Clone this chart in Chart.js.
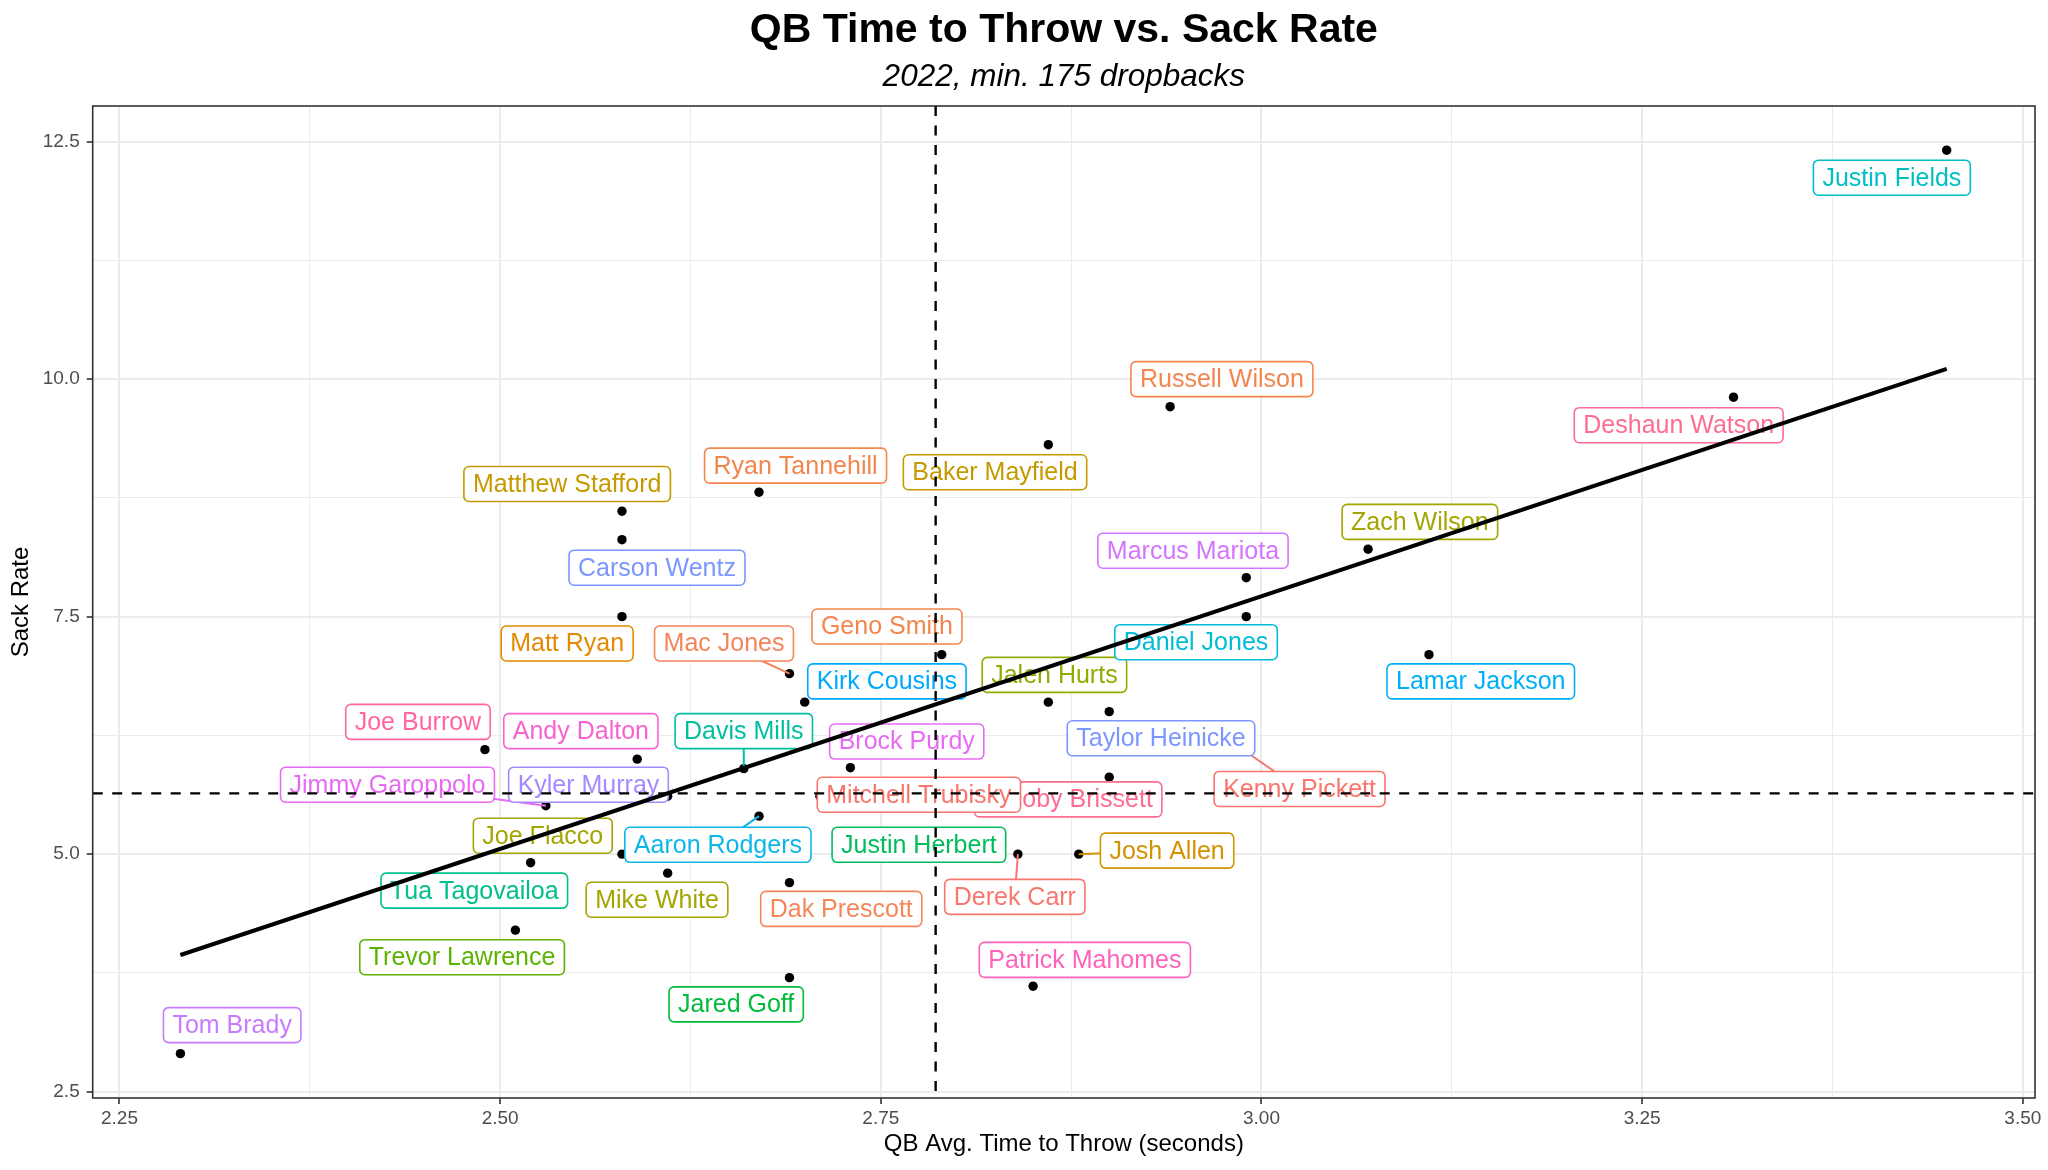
<!DOCTYPE html>
<html>
<head>
<meta charset="utf-8">
<script src="https://cdn.jsdelivr.net/npm/chart.js@4.4.1/dist/chart.umd.min.js"></script>
<style>
  html, body { margin: 0; padding: 0; background: #ffffff; }
  #wrap { width: 2048px; height: 1170px; }
</style>
</head>
<body>
<div id="wrap"><canvas id="qb"></canvas></div>
<script>
// DATA
const players = [
  "Tom Brady", "Trevor Lawrence", "Tua Tagovailoa", "Jimmy Garoppolo", "Joe Flacco",
  "Joe Burrow", "Andy Dalton", "Kyler Murray", "Mike White", "Davis Mills",
  "Aaron Rodgers", "Dak Prescott", "Jared Goff", "Mac Jones", "Kirk Cousins",
  "Matt Ryan", "Matthew Stafford", "Carson Wentz", "Ryan Tannehill", "Geno Smith",
  "Brock Purdy", "Jacoby Brissett", "Mitchell Trubisky", "Justin Herbert", "Derek Carr",
  "Josh Allen", "Patrick Mahomes", "Jalen Hurts", "Kenny Pickett", "Taylor Heinicke",
  "Baker Mayfield", "Russell Wilson", "Daniel Jones", "Marcus Mariota", "Zach Wilson",
  "Lamar Jackson", "Deshaun Watson", "Justin Fields"
];
const timeToThrow = [
  2.29, 2.51, 2.52, 2.53, 2.58,
  2.49, 2.59, 2.61, 2.61, 2.66,
  2.67, 2.69, 2.69, 2.69, 2.70,
  2.58, 2.58, 2.58, 2.67, 2.79,
  2.73, 2.90, 2.71, 2.74, 2.84,
  2.88, 2.85, 2.86, 2.97, 2.90,
  2.86, 2.94, 2.99, 2.99, 3.07,
  3.11, 3.31, 3.45
];
const sackRate = [
  2.90, 4.20, 4.91, 5.51, 5.00,
  6.10, 6.00, 5.61, 4.80, 5.90,
  5.40, 4.70, 3.70, 6.90, 6.60,
  7.50, 8.61, 8.31, 8.81, 7.10,
  5.91, 5.81, 5.61, 5.10, 5.00,
  5.00, 3.61, 6.60, 6.30, 6.50,
  9.31, 9.71, 7.50, 7.91, 8.21,
  7.10, 9.81, 12.41
];
// reference lines
const refTime = 2.786;
const refSack = 5.64;

const xMajorTicks = [2.25, 2.5, 2.75, 3.0, 3.25, 3.5];
const xMinorTicks = [2.375, 2.625, 2.875, 3.125, 3.375];
const yMajorTicks = [2.5, 5.0, 7.5, 10.0, 12.5];
const yMinorTicks = [3.75, 6.25, 8.75, 11.25];

// label layout (repelled label centres, in data units)
const labelX = [
  2.324, 2.475, 2.483, 2.426, 2.528,
  2.446, 2.553, 2.558, 2.603, 2.660,
  2.643, 2.724, 2.655, 2.647, 2.754,
  2.544, 2.544, 2.603, 2.694, 2.754,
  2.767, 2.873, 2.775, 2.775, 2.838,
  2.938, 2.884, 2.864, 3.025, 2.934,
  2.825, 2.974, 2.957, 2.955, 3.104,
  3.144, 3.274, 3.414
];
const labelY = [
  3.20, 3.915, 4.616, 5.731, 5.194,
  6.392, 6.295, 5.731, 4.52, 6.295,
  5.098, 4.424, 3.419, 7.217, 6.818,
  7.217, 8.896, 8.015, 9.089, 7.396,
  6.185, 5.576, 5.625, 5.098, 4.55,
  5.037, 3.887, 6.887, 5.686, 6.22,
  9.02, 10.0, 7.231, 8.194, 8.497,
  6.818, 9.515, 12.12
];
const labelColors = [
  "#C77CFF", "#5BB300", "#00C08B", "#E76BF3", "#A3A500",
  "#FF67A4", "#F763D0", "#A58AFF", "#A3A500", "#00BFA0",
  "#0CB7E8", "#F4875A", "#00BA38", "#F4845A", "#00A9FF",
  "#E58A00", "#C49A00", "#7C96FF", "#F3854E", "#F3854E",
  "#E76BF3", "#FF6C91", "#F8766D", "#00BD5C", "#F8766D",
  "#D39200", "#FF62BC", "#93AA00", "#F8766D", "#7C96FF",
  "#C49A00", "#F3854E", "#00BCD8", "#D575FE", "#A3A500",
  "#00B0F6", "#FF6C91", "#00BFC4"
];
const withSegment = ["Mac Jones", "Davis Mills", "Jimmy Garoppolo", "Aaron Rodgers",
  "Derek Carr", "Josh Allen", "Kenny Pickett"];

// least squares line (geom_smooth, method = "lm")
const n = timeToThrow.length;
const mx = timeToThrow.reduce((a, b) => a + b, 0) / n;
const my = sackRate.reduce((a, b) => a + b, 0) / n;
let sxy = 0, sxx = 0;
for (let i = 0; i < n; i++) {
  sxy += (timeToThrow[i] - mx) * (sackRate[i] - my);
  sxx += (timeToThrow[i] - mx) ** 2;
}
const slope = sxy / sxx;
const intercept = my - slope * mx;
const xLo = Math.min(...timeToThrow);
const xHi = Math.max(...timeToThrow);

const FONT = "'Liberation Sans', Arial, Helvetica, sans-serif";
const xAllTicks = [...xMajorTicks, ...xMinorTicks].sort((a, b) => a - b);
const yAllTicks = [...yMajorTicks, ...yMinorTicks].sort((a, b) => a - b);
const isMajor = (list, v) => list.some((t) => Math.abs(t - v) < 1e-9);

// LABELS (ggrepel style boxes)
const repelLabels = {
  id: "repelLabels",
  afterDatasetDraw(chart, args) {
    if (args.index !== 0) return;
    const { ctx, chartArea, scales: { x, y } } = chart;
    ctx.save();
    ctx.beginPath();
    ctx.rect(chartArea.left, chartArea.top, chartArea.width, chartArea.height);
    ctx.clip();
    ctx.font = "25px " + FONT;

    // SEGMENTS
    players.forEach((name, i) => {
      if (!withSegment.includes(name)) return;
      ctx.beginPath();
      ctx.strokeStyle = labelColors[i];
      ctx.lineWidth = 2;
      ctx.moveTo(x.getPixelForValue(timeToThrow[i]), y.getPixelForValue(sackRate[i]));
      ctx.lineTo(x.getPixelForValue(labelX[i]), y.getPixelForValue(labelY[i]));
      ctx.stroke();
    });

    // BOXES
    players.forEach((name, i) => {
      const cx = x.getPixelForValue(labelX[i]);
      const cy = y.getPixelForValue(labelY[i]);
      const w = ctx.measureText(name).width + 18;
      const h = 35;
      ctx.beginPath();
      ctx.roundRect(cx - w / 2, cy - h / 2, w, h, 5);
      ctx.fillStyle = "#ffffff";
      ctx.fill();
      ctx.lineWidth = 1.6;
      ctx.strokeStyle = labelColors[i];
      ctx.stroke();
      ctx.fillStyle = labelColors[i];
      ctx.textAlign = "center";
      ctx.textBaseline = "middle";
      ctx.fillText(name, cx, cy + 1);
    });
    ctx.restore();
  },
  afterDatasetsDraw(chart) {
    const { ctx, chartArea: { left, right, top, bottom }, scales: { x, y } } = chart;
    ctx.save();
    // REFERENCE LINES
    ctx.strokeStyle = "#000000";
    ctx.lineWidth = 2.4;
    ctx.setLineDash([10, 9.5]);
    const vx = x.getPixelForValue(refTime);
    ctx.beginPath();
    ctx.moveTo(vx, top);
    ctx.lineTo(vx, bottom);
    ctx.stroke();
    const hy = y.getPixelForValue(refSack);
    ctx.beginPath();
    ctx.moveTo(left, hy);
    ctx.lineTo(right, hy);
    ctx.stroke();
    ctx.setLineDash([]);
    // PANEL BORDER
    ctx.strokeStyle = "#333333";
    ctx.lineWidth = 1.6;
    ctx.strokeRect(left, top, right - left, bottom - top);
    ctx.restore();
  },
};

// TITLE / SUBTITLE centred on the panel
const headline = {
  id: "headline",
  afterDraw(chart) {
    const { ctx, chartArea: { left, right } } = chart;
    const cx = (left + right) / 2;
    ctx.save();
    ctx.fillStyle = "#000000";
    ctx.textAlign = "center";
    ctx.textBaseline = "alphabetic";
    ctx.font = "bold 41px " + FONT;
    ctx.fillText("QB Time to Throw vs. Sack Rate", cx, 42);
    ctx.font = "italic 31.5px " + FONT;
    ctx.fillText("2022, min. 175 dropbacks", cx, 86);
    ctx.restore();
  },
};

const config = {
  type: "scatter",
  data: {
    datasets: [
      {
        label: "QBs",
        data: timeToThrow.map((v, i) => ({ x: v, y: sackRate[i] })),
        backgroundColor: "#000000",
        borderWidth: 0,
        pointRadius: 4.7,
        order: 2,
      },
      {
        type: "line",
        label: "lm",
        data: [
          { x: xLo, y: intercept + slope * xLo },
          { x: xHi, y: intercept + slope * xHi },
        ],
        borderColor: "#000000",
        borderWidth: 4,
        pointRadius: 0,
        fill: false,
        order: 1,
      },
    ],
  },
  options: {
    responsive: true,
    maintainAspectRatio: false,
    animation: false,
    devicePixelRatio: 1,
    layout: { padding: { top: 106, left: 0, right: 13, bottom: 0 } },
    plugins: { legend: { display: false }, tooltip: { enabled: false } },
    scales: {
      x: {
        type: "linear",
        min: 2.2324,
        max: 3.508,
        afterBuildTicks: (scale) => { scale.ticks = xAllTicks.map((v) => ({ value: v })); },
        afterFit: (scale) => { scale.height = 72; },
        border: { display: false },
        grid: {
          color: "#EBEBEB",
          lineWidth: (c) => (isMajor(xMajorTicks, c.tick.value) ? 2 : 1),
          tickColor: (c) => (isMajor(xMajorTicks, c.tick.value) ? "#333333" : "rgba(0,0,0,0)"),
          tickLength: 6,
          tickWidth: 1.6,
        },
        ticks: {
          autoSkip: false,
          maxRotation: 0,
          padding: 3,
          color: "#4D4D4D",
          font: { family: FONT, size: 19 },
          callback: (v) => (isMajor(xMajorTicks, v) ? Number(v).toFixed(2) : ""),
        },
        title: {
          display: true,
          text: "QB Avg. Time to Throw (seconds)",
          color: "#000000",
          font: { family: FONT, size: 24 },
          padding: { top: 0, bottom: 11 },
        },
      },
      y: {
        type: "linear",
        min: 2.433,
        max: 12.875,
        afterBuildTicks: (scale) => { scale.ticks = yAllTicks.map((v) => ({ value: v })); },
        afterFit: (scale) => { scale.width = 92.7; },
        border: { display: false },
        grid: {
          color: "#EBEBEB",
          lineWidth: (c) => (isMajor(yMajorTicks, c.tick.value) ? 2 : 1),
          tickColor: (c) => (isMajor(yMajorTicks, c.tick.value) ? "#333333" : "rgba(0,0,0,0)"),
          tickLength: 6,
          tickWidth: 1.6,
        },
        ticks: {
          autoSkip: false,
          padding: 7,
          color: "#4D4D4D",
          font: { family: FONT, size: 19 },
          callback: (v) => (isMajor(yMajorTicks, v) ? Number(v).toFixed(1) : ""),
        },
        title: {
          display: true,
          text: "Sack Rate",
          color: "#000000",
          font: { family: FONT, size: 24 },
          padding: { top: 7, bottom: 0 },
        },
      },
    },
  },
  plugins: [repelLabels, headline],
};

new Chart(document.getElementById("qb"), config);
</script>
</body>
</html>
